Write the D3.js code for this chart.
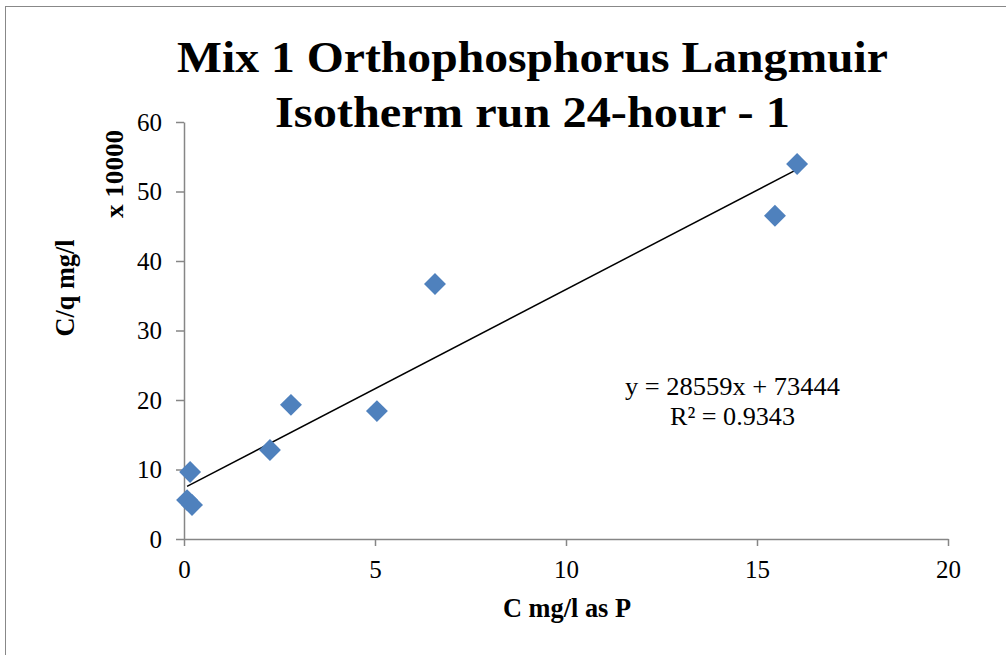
<!DOCTYPE html>
<html><head><meta charset="utf-8">
<script src="https://d3js.org/d3.v7.min.js"></script>
<style>body{margin:0;background:#fff}svg{display:block}</style>
</head><body>
<svg id="c" width="1006" height="655"></svg>
<script>
const titleLines = ["Mix 1 Orthophosphorus Langmuir", "Isotherm run 24-hour - 1"];
const xValues = [0.08, 0.16, 0.21, 2.25, 2.8, 5.05, 6.57, 15.47, 16.05];
const yValues = [5.6, 9.64, 4.9, 12.8, 19.3, 18.4, 36.7, 46.5, 53.95];
const xTicks = [0, 5, 10, 15, 20];
const yTicks = [0, 10, 20, 30, 40, 50, 60];
const slope = 2.8559, intercept = 7.3444;
const eqText = ["y = 28559x + 73444", "R² = 0.9343"];

const svg = d3.select("#c");
const font = "'Liberation Serif','Times New Roman',serif";
svg.append("rect").attr("x",5.5).attr("y",6.5).attr("width",1010).attr("height",660)
  .attr("fill","#fff").attr("stroke","#888").attr("stroke-width",1);

const x = d3.scaleLinear().domain([0,20]).range([184,948]);
const y = d3.scaleLinear().domain([0,60]).range([539,122]);

const gx = svg.append("g").attr("transform","translate(0,539)")
  .call(d3.axisBottom(x).tickValues(xTicks).tickSize(7).tickSizeOuter(0).tickPadding(14));
const gy = svg.append("g").attr("transform","translate(184,0)")
  .call(d3.axisLeft(y).tickValues(yTicks).tickSize(8).tickSizeOuter(0).tickPadding(14));
[gx,gy].forEach(g=>{
  g.select(".domain").attr("stroke","#868686").attr("stroke-width",1.5);
  g.selectAll(".tick line").attr("stroke","#868686").attr("stroke-width",1.5);
  g.selectAll(".tick text").attr("font-family",font).attr("font-size",25).attr("fill","#000");
});

// trendline
const xmin = d3.min(xValues), xmax = d3.max(xValues);
svg.append("line").attr("x1",x(xmin)).attr("y1",y(slope*xmin+intercept))
  .attr("x2",x(xmax)).attr("y2",y(slope*xmax+intercept))
  .attr("stroke","#000").attr("stroke-width",1.5);

// points
const pts = xValues.map((v,i)=>({x:v,y:yValues[i]}));
svg.append("g").selectAll("path").data(pts).join("path")
  .attr("d", d3.symbol().type(d3.symbolSquare).size(240))
  .attr("transform", d=>`translate(${x(d.x)},${y(d.y)}) rotate(45)`)
  .attr("fill","#4F81BD");

// title
const titleW = [711, 515];
svg.append("g").selectAll("text").data(titleLines).join("text")
  .attr("x",532.5).attr("y",(d,i)=>72+i*55).attr("text-anchor","middle")
  .attr("textLength",(d,i)=>titleW[i]).attr("lengthAdjust","spacingAndGlyphs")
  .attr("font-family",font).attr("font-weight","bold").attr("font-size",45).text(d=>d);

// axis titles
svg.append("text").attr("x",567).attr("y",617).attr("text-anchor","middle")
  .attr("textLength",128).attr("lengthAdjust","spacingAndGlyphs")
  .attr("font-family",font).attr("font-weight","bold").attr("font-size",28).text("C mg/l as P");
svg.append("text").attr("transform","translate(74,288) rotate(-90)").attr("text-anchor","middle")
  .attr("textLength",97).attr("lengthAdjust","spacingAndGlyphs")
  .attr("font-family",font).attr("font-weight","bold").attr("font-size",28).text("C/q mg/l");
svg.append("text").attr("transform","translate(123,174) rotate(-90)").attr("text-anchor","middle")
  .attr("textLength",88).attr("lengthAdjust","spacingAndGlyphs")
  .attr("font-family",font).attr("font-weight","bold").attr("font-size",26).text("x 10000");

// equation
const eqW = [215, 125];
svg.append("g").selectAll("text").data(eqText).join("text")
  .attr("x",732.5).attr("y",(d,i)=>395+i*30).attr("text-anchor","middle")
  .attr("textLength",(d,i)=>eqW[i]).attr("lengthAdjust","spacingAndGlyphs")
  .attr("font-family",font).attr("font-size",26).text(d=>d);
</script>
</body></html>
